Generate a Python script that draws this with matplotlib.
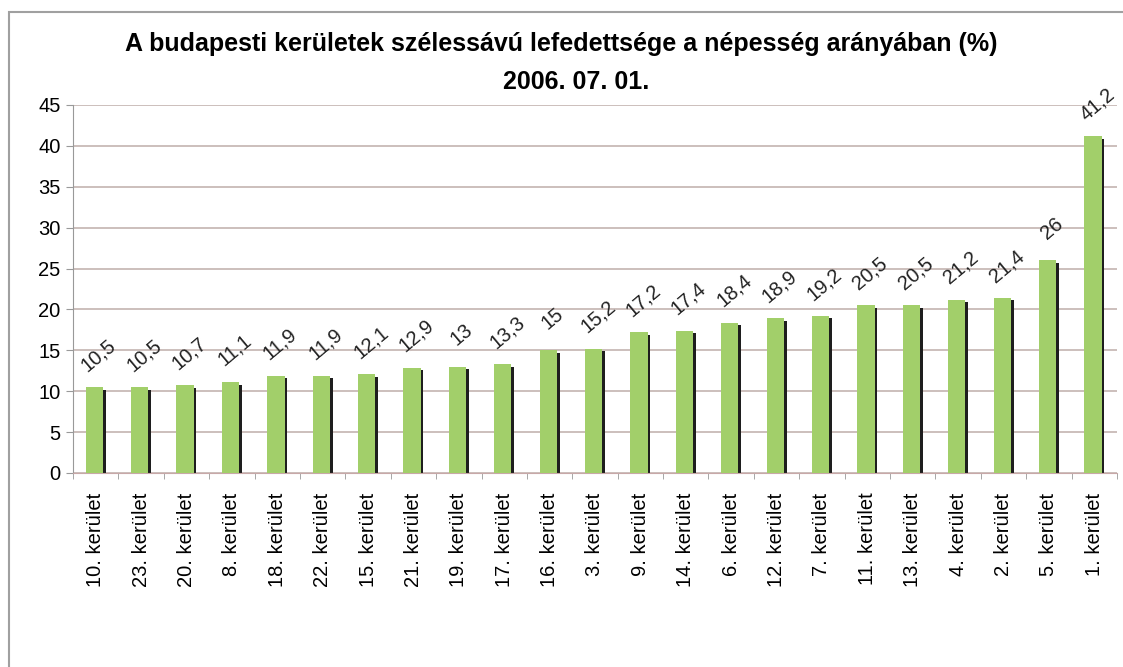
import numpy as np
import matplotlib.pyplot as plt
from matplotlib.patches import Rectangle

# === adatok ===
keruletek = ['10. kerület', '23. kerület', '20. kerület', '8. kerület', '18. kerület',
             '22. kerület', '15. kerület', '21. kerület', '19. kerület', '17. kerület',
             '16. kerület', '3. kerület', '9. kerület', '14. kerület', '6. kerület',
             '12. kerület', '7. kerület', '11. kerület', '13. kerület', '4. kerület',
             '2. kerület', '5. kerület', '1. kerület']
lefedettseg = [10.5, 10.5, 10.7, 11.1, 11.9, 11.9, 12.1, 12.9, 13, 13.3, 15, 15.2,
               17.2, 17.4, 18.4, 18.9, 19.2, 20.5, 20.5, 21.2, 21.4, 26, 41.2]
cimkek = ['10,5', '10,5', '10,7', '11,1', '11,9', '11,9', '12,1', '12,9', '13', '13,3',
          '15', '15,2', '17,2', '17,4', '18,4', '18,9', '19,2', '20,5', '20,5', '21,2',
          '21,4', '26', '41,2']

plt.rcParams['font.family'] = ['Liberation Sans', 'DejaVu Sans']

fig = plt.figure(figsize=(11.23, 6.67), dpi=100)
ax = fig.add_axes([73 / 1123, 1 - 473 / 667, (1117 - 73) / 1123, (473 - 105) / 667])

x = np.arange(len(lefedettseg))
v = np.array(lefedettseg)

# árnyék (fekete) és zöld oszlop
ax.bar(x + 0.10, v - 0.3, width=0.12, align='edge', color='#1e1e1e', zorder=2)
ax.bar(x - 0.22, v, width=0.38, align='edge', color='#a2cf6a', zorder=3)

for xi, vi, c in zip(x, v, cimkek):
    ax.annotate(c, (xi, vi), xytext=(2, 23), textcoords='offset points',
                ha='center', va='center', rotation=40, fontsize=14.5, color='#222222')

ax.set_xlim(-0.5, len(x) - 0.5)
ax.set_ylim(0, 45)
ax.set_yticks(range(0, 50, 5))
ax.tick_params(axis='y', labelsize=14.5, length=5, color='#999999', pad=4)
ax.set_xticks(x)
ax.set_xticklabels(keruletek, rotation=90, fontsize=14.5)
ax.set_xticks(np.arange(-0.5, len(x), 1), minor=True)
ax.tick_params(axis='x', which='major', length=0, pad=14)
ax.tick_params(axis='x', which='minor', length=4, color='#999999')
ax.yaxis.grid(True, color='#c4b4b0', linewidth=1.2, zorder=0)
ax.set_axisbelow(True)
for s in ['top', 'right']:
    ax.spines[s].set_visible(False)
ax.spines['left'].set_color('#999999')
ax.spines['bottom'].set_color('#c8a8a8')

fig.text(0.5, 1 - 44 / 667, 'A budapesti kerületek szélessávú lefedettsége a népesség arányában (%)',
         ha='center', va='center', fontsize=18, fontweight='bold')
fig.text(0.513, 1 - 82 / 667, '2006. 07. 01.', ha='center', va='center', fontsize=18,
         fontweight='bold')

# keret
fig.add_artist(Rectangle((9 / 1123, -0.01), 1.1, 1 - 12 / 667 + 0.01, transform=fig.transFigure,
                         fill=False, edgecolor='#a0a0a0', linewidth=1.5))

plt.savefig('out.png', dpi=100)
